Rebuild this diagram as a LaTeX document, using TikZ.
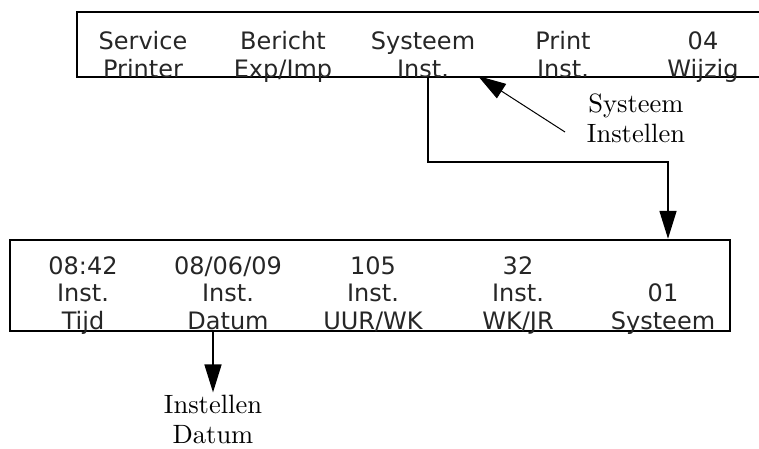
\documentclass[tikz,border=0pt]{standalone}
\usepackage{fontspec}
\newfontfamily\lcdfont{DejaVu Sans}
\newfontfamily\notefont{lmroman10-regular.otf}
\usetikzlibrary{arrows.meta}

\begin{document}
\begin{tikzpicture}[
  x=1pt, y=-1pt,
  >={Triangle[length=28pt, width=17pt]},
  panel/.style={draw, line width=2.4pt, inner sep=0pt},
  key/.style={font=\lcdfont\fontsize{24}{27.5}\selectfont, align=center, anchor=base, inner sep=0pt, text=black!85},
  note/.style={font=\notefont\fontsize{26.5}{30}\selectfont, align=center, anchor=base, inner sep=2pt},
  flow/.style={line width=1.6pt}
]
\useasboundingbox (0,0) rectangle (759,448);
\clip (0,0) rectangle (759,448);

% top menu line (anchors sit on the last text line)
\node[panel, minimum width=693pt, minimum height=65pt] (menu) at (423.5,44.5) {};
\node[key] (service) at (143,77) {Service\\Printer};
\node[key] (bericht) at (283,77) {Bericht\\Exp/Imp};
\node[key] (systeem) at (423,77) {Systeem\\Inst.};
\node[key] (print) at (563,77) {Print\\Inst.};
\node[key] (wijzig) at (703,77) {04\\Wijzig};

% system settings line
\node[panel, minimum width=720pt, minimum height=91pt] (setbox) at (370,285.5) {};
\node[key] (tijd) at (83,329) {08:42\\Inst.\\Tijd};
\node[key] (datum) at (228,329) {08/06/09\\Inst.\\Datum};
\node[key] (uurwk) at (373,329) {105\\Inst.\\UUR/WK};
\node[key] (wkjr) at (518,329) {32\\Inst.\\WK/JR};
\node[key] (sysnr) at (663,329) {01\\Systeem};

% callouts
\node[note] (syslbl) at (636,142) {Systeem\\Instellen};
\node[note] (datlbl) at (213,443) {Instellen\\Datum};

\coordinate (sysout) at (428,77);
\coordinate (turn) at (668,162);
\coordinate (systail) at (565,132);
\coordinate (systip) at (478,76);
\coordinate (datout) at (213,331);

\draw[flow, ->] (sysout) |- (turn) -- (turn |- setbox.north);
\draw[line width=1pt, ->] (systail) -- (systip);
\draw[flow, ->] (datout) -- (datlbl.north);

\end{tikzpicture}
\end{document}
